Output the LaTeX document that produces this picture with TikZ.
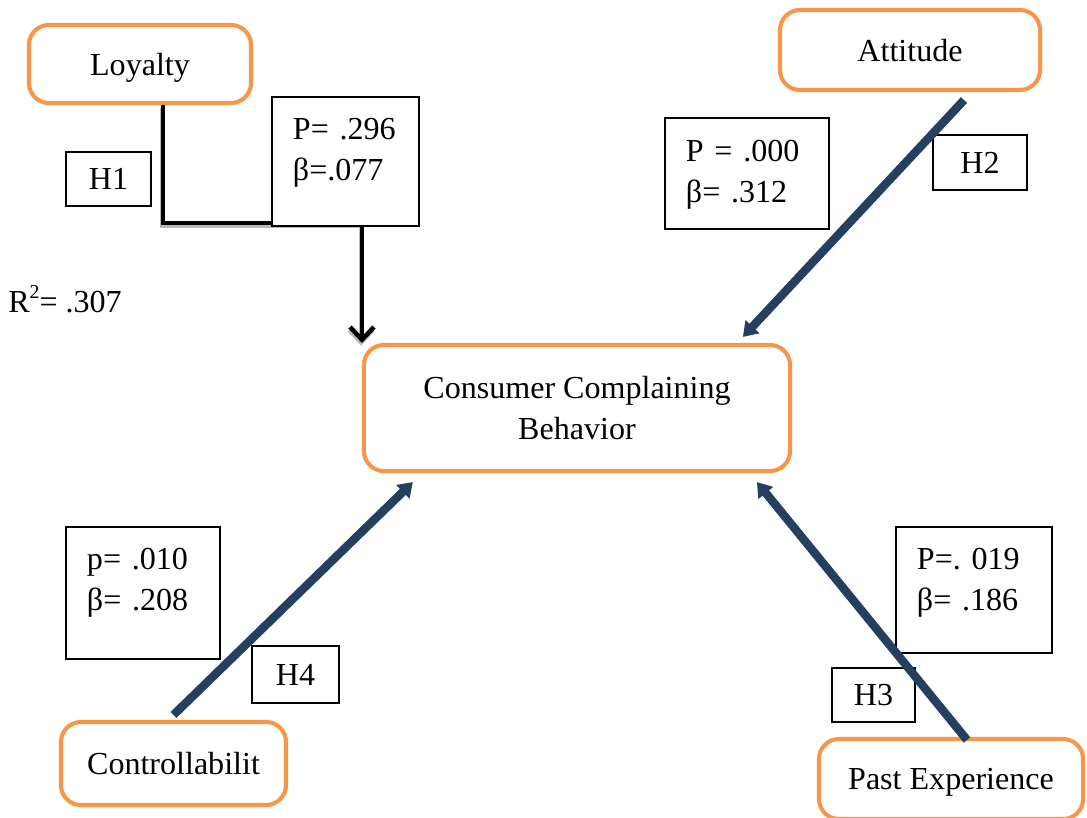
\documentclass[tikz,border=0pt]{standalone}
\usepackage{fontspec}
\setmainfont{Liberation Serif}
\frenchspacing
\usetikzlibrary{arrows.meta, positioning}
\definecolor{boxorange}{HTML}{F79646}
\definecolor{pathnavy}{HTML}{243F60}

\begin{document}
\begin{tikzpicture}[
  x=0.025cm, y=-0.025cm,
  every node/.style={font=\fontsize{22.8}{29.2}\selectfont},
  construct/.style={rectangle, draw=boxorange, line width=2.9pt, rounded corners=0.5cm, fill=white, align=center},
  oneline/.style={text depth=0pt},
  valbox/.style={rectangle, draw, line width=0.9pt, fill=white, align=left, inner xsep=0.525cm},
  hypbox/.style={rectangle, draw, line width=0.9pt, fill=white},
  effect/.style={line width=6pt, draw=pathnavy, -{Triangle[length=10pt, width=13pt]}},
  elbow/.style={line width=3.2pt, -{Straight Barb[length=9pt, width=17pt]},
    preaction={draw=gray!55, line width=3.2pt, -{Straight Barb[length=9pt, width=17pt]},
      transform canvas={shift={(-0.7pt,-2pt)}}}},
]
  \fill[white] (0,0) rectangle (1087,817);
  \useasboundingbox (0,0) rectangle (1087,817);

  % constructs
  \node[construct, oneline, minimum width=5.55cm, minimum height=1.95cm] (loyalty) at (140,64) {Loyalty};
  \node[construct, oneline, minimum width=6.5cm, minimum height=2cm] (attitude) at (910,50) {Attitude};
  \node[construct, minimum width=10.65cm, minimum height=3.15cm] (ccb) at (577,408) {Consumer Complaining\\Behavior};
  \node[construct, oneline, minimum width=5.625cm, minimum height=2.075cm] (ctrl) at (173.5,763.5) {Controllabilit};
  \node[construct, oneline, minimum width=6.6cm, minimum height=2cm] (past) at (951,779) {Past Experience};

  % loyalty path (not significant)
  \coordinate (bend) at (362,223);
  \draw[elbow] ([xshift=0.575cm]loyalty.south) |- (bend) -- (bend |- ccb.north);

  % estimates
  \node[valbox, text width=2.625cm, minimum height=3.225cm, text depth=1.625cm] (p296) at (345.5,161.5) {P= .296\\β=.077};
  \node[valbox, text width=3.05cm, minimum height=2.775cm, text depth=1.125cm] (p000) at (747,173.5) {P = .000\\β= .312};
  \node[valbox, text width=2.8cm, minimum height=3.3cm, text depth=1.7cm] (p010) at (143,593) {p= .010\\β= .208};
  \node[valbox, text width=2.85cm, minimum height=3.15cm, text depth=1.55cm] (p019) at (974,590) {P=. 019\\β= .186};

  % hypotheses
  \node[hypbox, minimum width=2.125cm, minimum height=1.35cm] (h1) at (108.5,179) {H1};
  \node[hypbox, minimum width=2.35cm, minimum height=1.375cm] (h2) at (980,162.5) {H2};
  \node[hypbox, minimum width=2.075cm, minimum height=1.35cm] (h3) at (873.5,695) {H3};
  \node[hypbox, minimum width=2.175cm, minimum height=1.425cm] (h4) at (295.5,674.5) {H4};

  \node[anchor=base west, inner sep=0pt] (rsq) at (8,312) {R\raisebox{0.42em}{\fontsize{14}{14}\selectfont 2}= .307};

  % significant paths
  \draw[effect] ([shift={(54,8)}]attitude.south) -- ([shift={(381,-6)}]ccb.north west);
  \draw[effect] ([shift={(0,-5)}]ctrl.north) -- ([shift={(51,9)}]ccb.south west);
  \draw[effect] ([shift={(16,3)}]past.north) -- ([shift={(395,9)}]ccb.south west);
\end{tikzpicture}
\end{document}
